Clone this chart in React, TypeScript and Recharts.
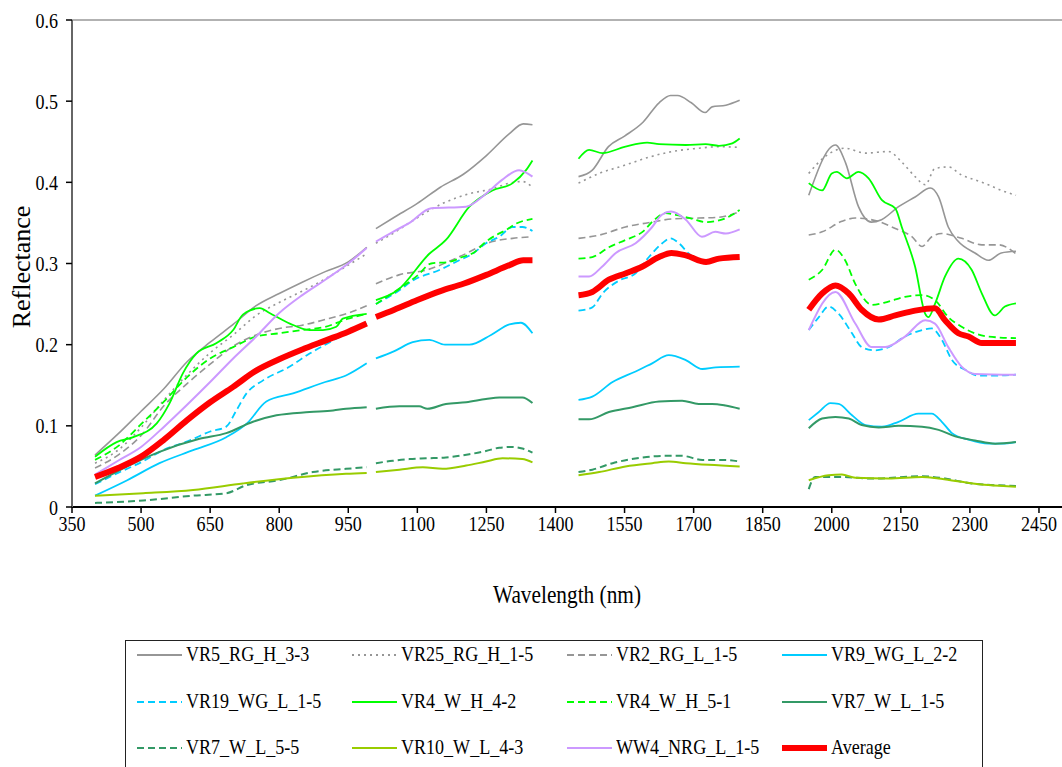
import { LineChart, Line, XAxis, YAxis, ReferenceLine } from "recharts";

type Pt = [number, number | null];

// reflectance spectra, [wavelength nm, reflectance]; null rows are the water-band gaps
const VR5_RG_H_3_3: Pt[] = [
  [400, .064], [450, .09], [500, .118], [550, .146], [600, .179], [650, .203], [700, .225], [750, .248], [800, .263], [850, .277], [900, .29], [950, .302], [990, .32],
  [1000, null],
  [1010, .343], [1050, .357], [1100, .374], [1150, .394], [1200, .41], [1250, .433], [1300, .46], [1330, .472], [1350, .471],
  [1400, null],
  [1450, .407], [1480, .415], [1515, .444], [1550, .457], [1590, .474], [1625, .498], [1650, .507], [1665, .507], [1695, .498], [1725, .486], [1740, .493], [1770, .495], [1800, .501],
  [1875, null],
  [1950, .384], [2008, .446], [2030, .424], [2058, .37], [2086, .351], [2108, .354], [2145, .37], [2181, .382], [2214, .393], [2232, .382], [2253, .345], [2275, .327], [2311, .313], [2340, .304], [2368, .313], [2400, .315],
];

const VR25_RG_H_1_5: Pt[] = [
  [400, .054], [450, .07], [500, .098], [550, .132], [600, .163], [650, .19], [700, .212], [750, .236], [800, .252], [850, .266], [900, .281], [950, .298], [990, .312],
  [1000, null],
  [1010, .325], [1050, .338], [1085, .351], [1155, .374], [1213, .386], [1263, .392], [1300, .399], [1328, .401], [1350, .394],
  [1400, null],
  [1450, .399], [1495, .411], [1550, .421], [1603, .431], [1654, .438], [1711, .442], [1755, .444], [1800, .443],
  [1875, null],
  [1950, .411], [1986, .432], [2029, .442], [2073, .436], [2123, .438], [2152, .425], [2181, .407], [2203, .397], [2224, .417], [2253, .419], [2282, .409], [2311, .403], [2340, .397], [2369, .39], [2400, .384],
];

const VR2_RG_L_1_5: Pt[] = [
  [400, .048], [450, .064], [500, .088], [550, .125], [600, .152], [650, .176], [700, .198], [750, .212], [800, .22], [850, .224], [900, .231], [950, .239], [990, .248],
  [1000, null],
  [1010, .275], [1060, .286], [1120, .292], [1190, .308], [1263, .327], [1307, .331], [1350, .333],
  [1400, null],
  [1450, .331], [1495, .335], [1552, .345], [1610, .351], [1654, .355], [1711, .356], [1755, .357], [1800, .364],
  [1875, null],
  [1950, .335], [1979, .339], [2022, .352], [2051, .356], [2094, .353], [2138, .343], [2174, .333], [2196, .321], [2217, .333], [2239, .337], [2282, .331], [2326, .323], [2362, .323], [2400, .312],
];

const VR9_WG_L_2_2: Pt[] = [
  [400, .014], [470, .033], [540, .054], [613, .07], [685, .086], [730, .103], [772, .13], [830, .14], [900, .154], [945, .162], [990, .177],
  [1000, null],
  [1010, .183], [1050, .192], [1090, .203], [1126, .206], [1160, .2], [1213, .2], [1260, .212], [1300, .225], [1325, .227], [1350, .214],
  [1400, null],
  [1450, .132], [1480, .136], [1524, .154], [1574, .167], [1610, .177], [1646, .187], [1683, .181], [1719, .17], [1748, .172], [1800, .173],
  [1875, null],
  [1950, .107], [1972, .117], [1997, .128], [2015, .127], [2044, .113], [2073, .101], [2109, .099], [2145, .105], [2188, .115], [2217, .115], [2239, .105], [2261, .091], [2297, .083], [2340, .078], [2369, .078], [2400, .08],
];

const VR19_WG_L_1_5: Pt[] = [
  [400, .028], [450, .042], [500, .055], [548, .07], [606, .082], [650, .093], [685, .099], [707, .119], [729, .14], [765, .156], [823, .173], [866, .189], [900, .2], [950, .215], [990, .226],
  [1000, null],
  [1010, .25], [1061, .267], [1090, .279], [1148, .292], [1191, .304], [1220, .312], [1249, .325], [1278, .333], [1307, .345], [1328, .345], [1350, .34],
  [1400, null],
  [1450, .242], [1480, .246], [1502, .263], [1538, .279], [1574, .288], [1603, .308], [1632, .325], [1650, .331], [1668, .325], [1690, .312], [1720, .303], [1760, .305], [1800, .306],
  [1875, null],
  [1950, .218], [1972, .234], [1993, .247], [2015, .238], [2044, .214], [2065, .197], [2094, .193], [2123, .197], [2159, .21], [2196, .218], [2217, .22], [2239, .206], [2261, .181], [2290, .169], [2318, .162], [2362, .162], [2400, .163],
];

const VR4_W_H_4_2: Pt[] = [
  [400, .062], [447, .08], [483, .086], [534, .103], [562, .128], [591, .165], [620, .189], [664, .202], [700, .218], [721, .237], [758, .245], [779, .239], [823, .226], [866, .218], [895, .218], [924, .222], [938, .232], [990, .238],
  [1000, null],
  [1010, .255], [1057, .267], [1126, .312], [1162, .329], [1213, .37], [1263, .39], [1307, .399], [1336, .415], [1350, .427],
  [1400, null],
  [1450, .429], [1473, .44], [1502, .436], [1552, .444], [1599, .449], [1625, .447], [1683, .446], [1726, .447], [1755, .445], [1784, .448], [1800, .454],
  [1875, null],
  [1950, .399], [1979, .39], [2000, .411], [2011, .413], [2033, .405], [2058, .413], [2080, .405], [2109, .378], [2138, .368], [2152, .345], [2181, .296], [2203, .238], [2210, .234], [2224, .25], [2246, .284], [2275, .306], [2304, .292], [2326, .263], [2354, .236], [2376, .247], [2400, .251],
];

const VR4_W_H_5_1: Pt[] = [
  [400, .058], [450, .075], [500, .102], [550, .13], [600, .16], [650, .183], [700, .197], [750, .21], [800, .214], [850, .218], [900, .222], [950, .232], [990, .238],
  [1000, null],
  [1010, .25], [1050, .265], [1100, .285], [1130, .3], [1169, .302], [1198, .308], [1224, .314], [1249, .327], [1271, .335], [1292, .341], [1314, .349], [1350, .355],
  [1400, null],
  [1450, .306], [1480, .308], [1516, .32], [1552, .329], [1589, .339], [1617, .355], [1639, .362], [1661, .36], [1697, .355], [1726, .351], [1755, .353], [1784, .36], [1800, .366],
  [1875, null],
  [1950, .28], [1979, .292], [2008, .317], [2029, .304], [2051, .275], [2087, .249], [2123, .253], [2159, .259], [2196, .261], [2224, .255], [2253, .234], [2282, .222], [2311, .214], [2340, .21], [2400, .208],
];

const VR7_W_L_1_5: Pt[] = [
  [400, .029], [470, .05], [540, .068], [627, .084], [685, .091], [743, .105], [794, .113], [866, .117], [917, .119], [945, .121], [990, .123],
  [1000, null],
  [1010, .121], [1061, .124], [1104, .124], [1122, .121], [1162, .127], [1206, .129], [1249, .133], [1278, .135], [1328, .135], [1350, .128],
  [1400, null],
  [1450, .108], [1473, .108], [1516, .117], [1567, .123], [1625, .13], [1675, .131], [1711, .127], [1740, .127], [1769, .125], [1800, .121],
  [1875, null],
  [1950, .097], [1979, .109], [2008, .111], [2037, .109], [2065, .101], [2102, .098], [2145, .1], [2196, .099], [2232, .095], [2268, .087], [2311, .082], [2355, .078], [2400, .08],
];

const VR7_W_L_5_5: Pt[] = [
  [400, .005], [505, .008], [613, .014], [685, .017], [729, .027], [800, .033], [873, .043], [945, .047], [990, .049],
  [1000, null],
  [1010, .054], [1047, .057], [1083, .059], [1119, .06], [1162, .061], [1213, .065], [1249, .069], [1278, .073], [1307, .074], [1328, .072], [1350, .067],
  [1400, null],
  [1450, .043], [1480, .046], [1524, .054], [1589, .061], [1632, .063], [1675, .063], [1719, .058], [1769, .058], [1800, .056],
  [1875, null],
  [1950, .022], [1964, .037], [2022, .037], [2087, .035], [2196, .038], [2246, .035], [2304, .029], [2400, .026],
];

const VR10_W_L_4_3: Pt[] = [
  [400, .014], [505, .017], [613, .021], [721, .029], [830, .036], [945, .041], [990, .042],
  [1000, null],
  [1010, .043], [1061, .046], [1112, .049], [1155, .047], [1206, .051], [1249, .056], [1285, .06], [1328, .059], [1350, .055],
  [1400, null],
  [1450, .039], [1495, .043], [1552, .05], [1610, .054], [1646, .056], [1683, .054], [1733, .052], [1800, .05],
  [1875, null],
  [1950, .033], [1993, .039], [2022, .04], [2051, .036], [2123, .035], [2196, .037], [2232, .035], [2282, .031], [2340, .027], [2400, .025],
];

const WW4_NRG_L_1_5: Pt[] = [
  [400, .04], [450, .057], [500, .074], [550, .099], [600, .126], [650, .154], [700, .183], [750, .21], [800, .239], [850, .261], [900, .28], [950, .3], [990, .319],
  [1000, null],
  [1010, .327], [1050, .34], [1083, .35], [1130, .368], [1206, .37], [1249, .386], [1284, .403], [1321, .415], [1350, .407],
  [1400, null],
  [1450, .284], [1473, .284], [1501, .296], [1531, .313], [1574, .325], [1610, .345], [1631, .36], [1651, .364], [1683, .354], [1718, .333], [1747, .339], [1770, .337], [1800, .342],
  [1875, null],
  [1950, .218], [2008, .265], [2051, .226], [2087, .197], [2116, .197], [2159, .21], [2203, .23], [2224, .226], [2253, .197], [2282, .173], [2311, .164], [2400, .163],
];

const AVERAGE: Pt[] = [
  [400, .037], [450, .048], [500, .062], [550, .083], [600, .107], [650, .129], [700, .148], [750, .168], [800, .182], [850, .194], [900, .205], [950, .216], [990, .226],
  [1000, null],
  [1010, .234], [1050, .243], [1100, .255], [1150, .266], [1200, .275], [1250, .286], [1300, .298], [1330, .304], [1350, .304],
  [1400, null],
  [1450, .261], [1480, .265], [1516, .28], [1553, .288], [1588, .296], [1625, .308], [1652, .313], [1683, .31], [1727, .302], [1755, .306], [1800, .308],
  [1875, null],
  [1950, .243], [1979, .263], [2008, .273], [2037, .263], [2065, .243], [2102, .231], [2138, .236], [2181, .242], [2224, .245], [2246, .23], [2275, .214], [2297, .21], [2326, .202], [2400, .202],
];

const X_TICKS = [350, 500, 650, 800, 950, 1100, 1250, 1400, 1550, 1700, 1850, 2000, 2150, 2300, 2450];
const Y_TICKS = [0, 0.1, 0.2, 0.3, 0.4, 0.5, 0.6];

const FONT = "'Liberation Serif', 'Times New Roman', serif";
const SQUEEZE = 0.82;

const SERIES = [
  { name: "VR5_RG_H_3-3", pts: VR5_RG_H_3_3, color: "#969696", width: 1.6 },
  { name: "VR25_RG_H_1-5", pts: VR25_RG_H_1_5, color: "#969696", width: 1.6, dash: "2 4" },
  { name: "VR2_RG_L_1-5", pts: VR2_RG_L_1_5, color: "#969696", width: 1.6, dash: "7 4" },
  { name: "VR9_WG_L_2-2", pts: VR9_WG_L_2_2, color: "#00CCFF", width: 1.8 },
  { name: "VR19_WG_L_1-5", pts: VR19_WG_L_1_5, color: "#00CCFF", width: 1.8, dash: "7 4" },
  { name: "VR4_W_H_4-2", pts: VR4_W_H_4_2, color: "#00FF00", width: 1.8 },
  { name: "VR4_W_H_5-1", pts: VR4_W_H_5_1, color: "#00FF00", width: 1.8, dash: "7 4" },
  { name: "VR7_W_L_1-5", pts: VR7_W_L_1_5, color: "#339966", width: 2 },
  { name: "VR7_W_L_5-5", pts: VR7_W_L_5_5, color: "#339966", width: 2, dash: "7 4" },
  { name: "VR10_W_L_4-3", pts: VR10_W_L_4_3, color: "#99CC00", width: 2 },
  { name: "WW4_NRG_L_1-5", pts: WW4_NRG_L_1_5, color: "#CC99FF", width: 2 },
  { name: "Average", pts: AVERAGE, color: "#FF0000", width: 6 },
];

const toRows = (pts: Pt[]) => pts.map(([nm, r]) => ({ nm, r }));

const XTick = ({ x, y, payload }: any) => (
  <g transform={`translate(${x},${y})`}>
    <text transform={`scale(${SQUEEZE},1)`} y={16} textAnchor="middle" fontSize={22} fontFamily={FONT} fill="#000">
      {payload.value}
    </text>
  </g>
);

const YTick = ({ x, y, payload }: any) => (
  <g transform={`translate(${x},${y})`}>
    <text transform={`scale(${SQUEEZE},1)`} y={7.5} textAnchor="end" fontSize={22} fontFamily={FONT} fill="#000">
      {payload.value}
    </text>
  </g>
);

const Legend = () => (
  <div
    style={{
      position: "absolute", left: 125, top: 640, width: 858, height: 150,
      border: "1px solid #222", boxSizing: "border-box", background: "#fff",
    }}
  >
    {SERIES.map((s, i) => {
      const col = i % 4;
      const row = Math.floor(i / 4);
      return (
        <div
          key={s.name}
          style={{ position: "absolute", left: 11 + col * 215, top: 14 + row * 46.5, height: 0 }}
        >
          <svg width={46} height={10} style={{ position: "absolute", left: 0, top: -5 }}>
            <line x1={0} y1={5} x2={45} y2={5} stroke={s.color}
              strokeWidth={s.name === "Average" ? 6 : 2} strokeDasharray={s.dash} />
          </svg>
          <span
            style={{
              position: "absolute", left: 49, top: -14, whiteSpace: "nowrap",
              fontFamily: FONT, fontSize: 22, lineHeight: "26px", color: "#000",
              transform: `scaleX(${SQUEEZE})`, transformOrigin: "left center",
            }}
          >
            {s.name}
          </span>
        </div>
      );
    })}
  </div>
);

export default function App() {
  return (
    <div style={{ position: "fixed", left: 0, top: 0, width: 1062, height: 767, background: "#fff", overflow: "hidden" }}>
      <LineChart width={1062} height={640} margin={{ top: 20, right: 0, left: 0, bottom: 103 }}>
        <XAxis
          type="number" dataKey="nm" domain={[350, 2500]} ticks={X_TICKS} allowDataOverflow
          axisLine={{ stroke: "#000", strokeWidth: 2 }} tickLine={{ stroke: "#000", strokeWidth: 1.5 }}
          tickSize={6} tickMargin={2} height={30} tick={<XTick />} interval={0}
        />
        <YAxis
          type="number" domain={[0, 0.6]} ticks={Y_TICKS} width={72}
          axisLine={{ stroke: "#666", strokeWidth: 2 }} tickLine={{ stroke: "#000", strokeWidth: 1.5 }}
          tickSize={6} tickMargin={8} tick={<YTick />} interval={0}
        />
        <ReferenceLine y={0.6} stroke="#999" strokeWidth={1.5} />
        {SERIES.map((s) => (
          <Line
            key={s.name} data={toRows(s.pts)} dataKey="r" name={s.name} type="monotone"
            stroke={s.color} strokeWidth={s.width} strokeDasharray={s.dash}
            dot={false} activeDot={false} isAnimationActive={false}
          />
        ))}
      </LineChart>
      <div
        style={{
          position: "absolute", left: 22, top: 267, transform: "translate(-50%,-50%) rotate(-90deg)",
          fontFamily: FONT, fontSize: 26, whiteSpace: "nowrap", color: "#000",
        }}
      >
        Reflectance
      </div>
      <div
        style={{
          position: "absolute", left: 567, top: 595, transform: `translate(-50%,-50%) scaleX(${SQUEEZE})`,
          fontFamily: FONT, fontSize: 26, whiteSpace: "nowrap", color: "#000",
        }}
      >
        Wavelength (nm)
      </div>
      <Legend />
    </div>
  );
}
